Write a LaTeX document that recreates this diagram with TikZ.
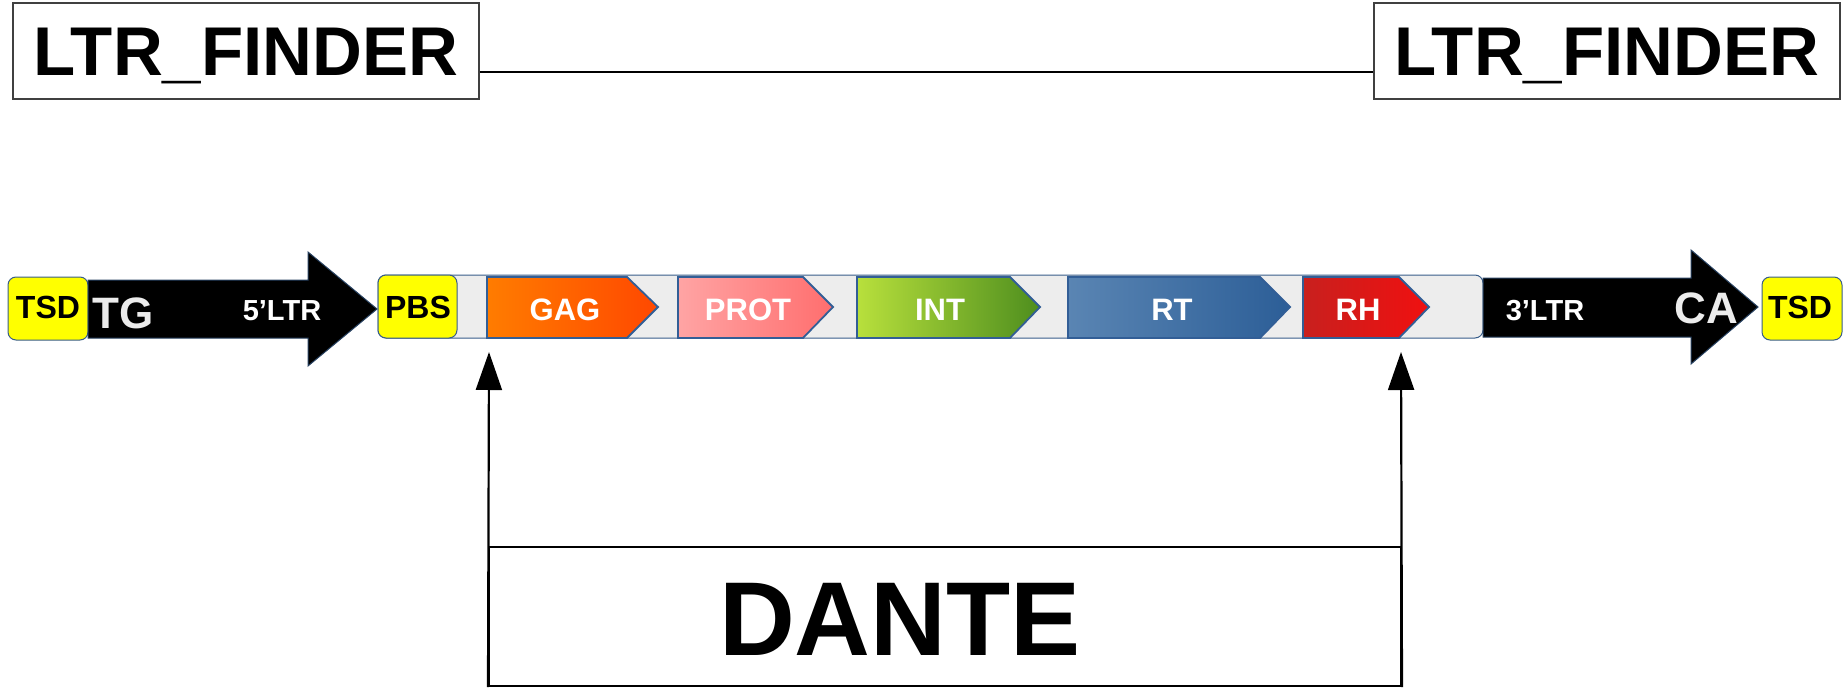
\documentclass[tikz,border=0pt]{standalone}
\usepackage{fontspec}
\setmainfont{Liberation Sans}
\usetikzlibrary{arrows.meta}

\definecolor{edgeblue}{RGB}{56,93,138}
\definecolor{geneedge}{RGB}{50,94,150}
\definecolor{bandgrey}{RGB}{237,237,237}
\definecolor{softgrey}{RGB}{236,236,236}
\definecolor{tsdyellow}{RGB}{255,255,0}
\definecolor{gagA}{RGB}{255,124,0}
\definecolor{gagB}{RGB}{255,72,0}
\definecolor{protA}{RGB}{255,164,164}
\definecolor{protB}{RGB}{255,110,110}
\definecolor{intA}{RGB}{184,224,60}
\definecolor{intB}{RGB}{78,142,30}
\definecolor{rtA}{RGB}{90,133,179}
\definecolor{rtB}{RGB}{44,94,151}
\definecolor{rhA}{RGB}{200,32,30}
\definecolor{rhB}{RGB}{240,16,16}

\begin{document}
\begin{tikzpicture}[x=1pt, y=-1pt,
    finderbox/.style={draw=black!75, line width=1.5pt, inner sep=0pt,
      minimum width=466pt, minimum height=96pt, text height=49pt, text depth=0pt,
      font=\fontsize{69}{80}\selectfont\bfseries},
    smallbox/.style={draw=edgeblue, fill=tsdyellow, line width=1pt, rounded corners=8pt},
    boxtext/.style={anchor=base, inner sep=0pt, font=\fontsize{32}{36}\selectfont\bfseries},
    ltrarrow/.style={fill=black, draw=edgeblue!70!black, line width=1pt},
    ltrtext/.style={anchor=base, inner sep=0pt, text=white, font=\fontsize{29}{34}\selectfont\bfseries},
    endtext/.style={anchor=base, inner sep=0pt, text=softgrey, font=\fontsize{44}{50}\selectfont\bfseries},
    genebox/.style={draw=geneedge, line width=1.8pt},
    genelabel/.style={anchor=base, inner sep=0pt, text=white, font=\fontsize{31}{36}\selectfont\bfseries},
    dantebox/.style={draw=black, line width=2pt, inner sep=0pt,
      minimum width=912pt, minimum height=139pt},
    dantearrow/.style={draw=black, line width=2.2pt, -{Triangle[length=38pt,width=26pt]}}
  ]
  \useasboundingbox (0,0) rectangle (1848,688);

  % LTR_FINDER hits on both ends
  \node[finderbox] (finderL) at (246,51) {LTR\_FINDER};
  \node[finderbox] (finderR) at (1607,51) {LTR\_FINDER};
  \draw[line width=2pt] ([yshift=-21pt]finderL.east) -- ([yshift=-21pt]finderR.west);

  % internal region
  \filldraw[fill=bandgrey, draw=edgeblue, line width=1pt, rounded corners=8pt]
    (378,275) rectangle (1483,338);

  % TSD and PBS
  \filldraw[smallbox] (8,277) rectangle (88,340);
  \node[boxtext] (tsdL) at (48,318) {TSD};
  \filldraw[smallbox] (378,275) rectangle (457,338);
  \node[boxtext] (pbs) at (418,318) {PBS};
  \filldraw[smallbox] (1762,277) rectangle (1842,340);
  \node[boxtext] (tsdR) at (1800,318) {TSD};

  % long terminal repeats
  \filldraw[ltrarrow] (88,280) -- (308,280) -- (308,252) -- (377,309)
    -- (308,366) -- (308,338) -- (88,338) -- cycle;
  \node[endtext] (tg) at (123,328) {TG};
  \node[ltrtext] (ltrL) at (282,320) {5’LTR};

  \filldraw[ltrarrow] (1483,278) -- (1691,278) -- (1691,250) -- (1758,307)
    -- (1691,364) -- (1691,337) -- (1483,337) -- cycle;
  \node[ltrtext] (ltrR) at (1545,320) {3’LTR};
  \node[endtext] (ca) at (1706,323) {CA};

  % protein domains
  \foreach \xa/\xb/\xc/\tx/\ca/\cb/\name/\lab in {
      487/627/658/565/gagA/gagB/gag/GAG,
      678/803/833/748/protA/protB/prot/PROT,
      857/1010/1040/940/intA/intB/int/INT,
      1068/1260/1290/1172/rtA/rtB/rt/RT,
      1303/1399/1429/1358/rhA/rhB/rh/RH}{
    \shadedraw[genebox, left color=\ca, right color=\cb]
      (\xa,277) -- (\xb,277) -- (\xc,307) -- (\xb,338) -- (\xa,338) -- cycle;
    \node[genelabel] (\name) at (\tx,320) {\lab};
  }

  % DANTE span
  \node[dantebox] (dante) at (945,616.5) {};
  \node[anchor=base, inner sep=0pt, font=\fontsize{105}{112}\selectfont\bfseries]
    (dantetext) at (900,655) {DANTE};
  \coordinate (tipL) at (489,352);
  \coordinate (tipR) at (1401,352);
  \draw[dantearrow] (dante.south west) -- (tipL);
  \draw[dantearrow] (dante.south east) -- (tipR);
\end{tikzpicture}
\end{document}
